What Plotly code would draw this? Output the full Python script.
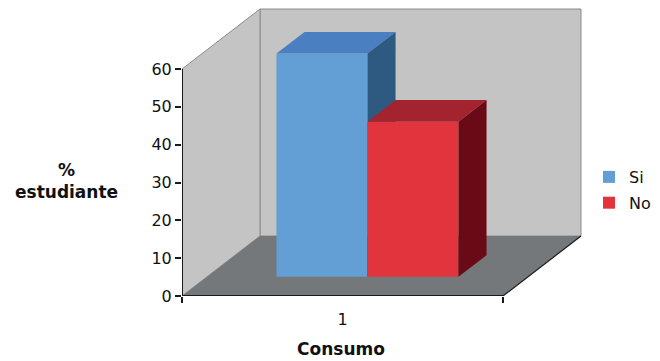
import plotly.graph_objects as go

# ---- data ----
categories = ["1"]
series_names = ["Si", "No"]
series_values = [59, 41]
y_ticks = [0, 10, 20, 30, 40, 50, 60]

# ---- colours ----
front_colors = ["#639ED5", "#E2343C"]
top_colors = ["#4A80C1", "#A3232F"]
side_colors = ["#2E5A82", "#6A0A17"]
wall_color = "#C3C4C3"
floor_color = "#75787A"
text_color = "#111111"
FONT = "DejaVu Sans"

# ---- pseudo-3D projection (x axis in screen px, y axis in value units) ----
WIDTH, HEIGHT = 660, 361
PX_PER_UNIT = 3.783
DEPTH_X = 78.0
DEPTH_Y = 60.0 / PX_PER_UNIT
FLOOR_W = 321.0
BAR_W = 91.0
F_FRONT, F_BACK = 0.32, 0.68
Y_MAX = 60
PLOT_W = 408
PLOT_H = 288
Y_TOP = PLOT_H / PX_PER_UNIT

gap = (FLOOR_W - BAR_W * len(series_values)) / 2
dx = (F_BACK - F_FRONT) * DEPTH_X
dy = (F_BACK - F_FRONT) * DEPTH_Y
base = F_FRONT * DEPTH_Y

fig = go.Figure()

for i, (name, v) in enumerate(zip(series_names, series_values)):
    x0 = gap + i * BAR_W + F_FRONT * DEPTH_X
    x1 = x0 + BAR_W
    top = base + v
    # front face
    fig.add_trace(go.Bar(
        x=[(x0 + x1) / 2], y=[v], base=[base], width=[BAR_W],
        name=name, marker=dict(color=front_colors[i], line=dict(width=0)),
        legendgroup=name, zorder=i + 1, hoverinfo="skip",
    ))
    # top face
    fig.add_trace(go.Scatter(
        x=[x0, x1, x1 + dx, x0 + dx, x0], y=[top, top, top + dy, top + dy, top],
        fill="toself", fillcolor=top_colors[i], mode="lines",
        line=dict(width=0, color=top_colors[i]), showlegend=False,
        zorder=i + 1, hoverinfo="skip",
    ))
    # side face
    fig.add_trace(go.Scatter(
        x=[x1, x1, x1 + dx, x1 + dx, x1], y=[base, top, top + dy, base + dy, base],
        fill="toself", fillcolor=side_colors[i], mode="lines",
        line=dict(width=0, color=side_colors[i]), showlegend=False,
        zorder=i + 1, hoverinfo="skip",
    ))

shapes = []
wall_line = dict(color="#8C8C8C", width=1)
# back wall
shapes.append(dict(type="rect", xref="x", yref="y", layer="below",
                   x0=DEPTH_X, x1=FLOOR_W + DEPTH_X, y0=DEPTH_Y, y1=Y_MAX + DEPTH_Y,
                   fillcolor=wall_color, line=wall_line))
# left wall
shapes.append(dict(type="path", xref="x", yref="y", layer="below",
                   path=f"M0,0 L0,{Y_MAX} L{DEPTH_X},{Y_MAX + DEPTH_Y} L{DEPTH_X},{DEPTH_Y} Z",
                   fillcolor=wall_color, line=wall_line))
# floor
shapes.append(dict(type="path", xref="x", yref="y", layer="below",
                   path=f"M0,0 L{FLOOR_W},0 L{FLOOR_W + DEPTH_X},{DEPTH_Y} L{DEPTH_X},{DEPTH_Y} Z",
                   fillcolor=floor_color, line=dict(width=0)))
# floor edges
shapes.append(dict(type="line", xref="x", yref="y", layer="below",
                   x0=FLOOR_W, y0=0, x1=FLOOR_W + DEPTH_X, y1=DEPTH_Y,
                   line=dict(color="#1A1A1A", width=1.2)))
shapes.append(dict(type="line", xref="x", yref="y", layer="above",
                   x0=0, y0=0, x1=FLOOR_W, y1=0,
                   line=dict(color="#1A1A1A", width=2)))
# value axis line
shapes.append(dict(type="line", xref="x", yref="y", layer="above",
                   x0=0, y0=0, x1=0, y1=Y_MAX,
                   line=dict(color="#1A1A1A", width=2)))

annotations = [
    dict(text="<b>%<br>estudiante</b>", xref="paper", yref="paper",
         x=(66 - 182) / PLOT_W, y=(296 - 181) / PLOT_H, showarrow=False,
         xanchor="center", yanchor="middle",
         font=dict(family=FONT, size=17, color=text_color), align="center"),
    dict(text="<b>Consumo</b>", xref="paper", yref="paper",
         x=(341 - 182) / PLOT_W, y=-(349 - 296) / PLOT_H, showarrow=False,
         xanchor="center", yanchor="middle",
         font=dict(family=FONT, size=17, color=text_color)),
]

fig.update_layout(
    width=WIDTH, height=HEIGHT,
    margin=dict(l=182, r=WIDTH - 182 - PLOT_W, t=HEIGHT - 65 - PLOT_H, b=65,
                autoexpand=False),
    paper_bgcolor="white", plot_bgcolor="white",
    barmode="overlay", showlegend=True,
    shapes=shapes, annotations=annotations,
    font=dict(family=FONT, color=text_color),
    legend=dict(xref="container", yref="container",
                x=589 / WIDTH, xanchor="left",
                y=(HEIGHT - 160) / HEIGHT, yanchor="top",
                font=dict(family=FONT, size=16, color=text_color),
                tracegroupgap=2, bgcolor="rgba(0,0,0,0)"),
    xaxis=dict(range=[0, PLOT_W], showgrid=False, zeroline=False, showline=False,
               tickmode="array", tickvals=[FLOOR_W / 2], ticktext=categories,
               ticks="", ticklabelstandoff=12,
               tickfont=dict(family=FONT, size=16, color=text_color),
               minor=dict(tickmode="array", tickvals=[0, FLOOR_W], ticks="outside",
                          ticklen=6, tickcolor="#1A1A1A", tickwidth=1.5),
               fixedrange=True),
    yaxis=dict(range=[0, Y_TOP], showgrid=False, zeroline=False, showline=False,
               tickmode="array", tickvals=y_ticks, ticks="outside", ticklen=6,
               tickcolor="#1A1A1A", tickwidth=1.5,
               tickfont=dict(family=FONT, size=16, color=text_color),
               fixedrange=True),
)

fig.write_html("out.html")
